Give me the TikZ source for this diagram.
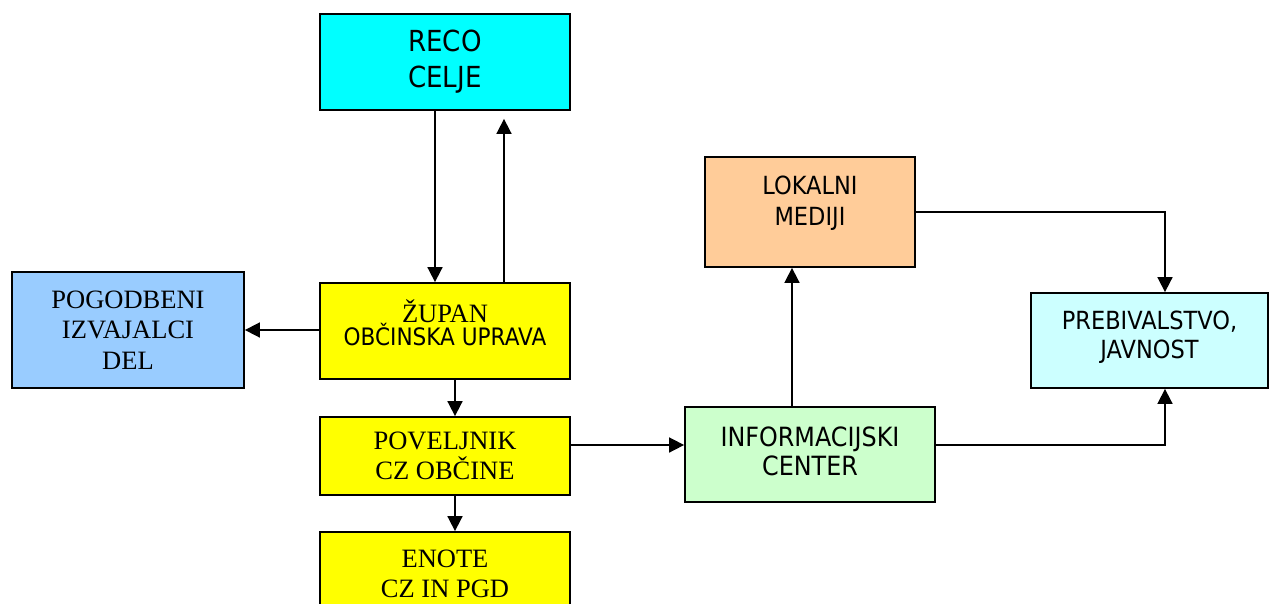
\documentclass[tikz,border=0pt]{standalone}
\usepackage{fontspec}
\setmainfont{Liberation Serif}
\newfontfamily\tah[FakeStretch=0.9]{DejaVu Sans}
\usetikzlibrary{arrows.meta}
\definecolor{cCyan}{HTML}{00FFFF}
\definecolor{cBlue}{HTML}{99CCFF}
\definecolor{cYel}{HTML}{FFFF00}
\definecolor{cOra}{HTML}{FFCC99}
\definecolor{cGrn}{HTML}{CCFFCC}
\definecolor{cLcy}{HTML}{CCFFFF}
\tikzset{
  box/.style={draw=black, line width=1.8pt, inner sep=0pt, align=center},
  serifbig/.style={font=\fontsize{26.5}{30.5}\selectfont},
  conn/.style={-{Triangle[length=15pt,width=15pt]}, line width=1.7pt},
}
\begin{document}
\begin{tikzpicture}[x=1pt,y=-1pt]
\clip (0,0) rectangle (1269,603);
\fill[white] (0,0) rectangle (1269,603);
% boxes
\node[box, fill=cCyan, minimum width=250pt, minimum height=96pt,
  font=\tah\fontsize{29}{36}\selectfont] (reco) at (445,62) {RECO\\CELJE};
\node[box, fill=cBlue, minimum width=232pt, minimum height=116pt, serifbig] (pdg) at (128,330) {POGODBENI\\IZVAJALCI\\DEL};
\node[box, fill=cYel, minimum width=250pt, minimum height=96pt,
  label={[name=zupant, align=center, yshift=8pt]center:{\fontsize{26.5}{35}\selectfont ŽUPAN\\{\tah\fontsize{24}{35}\selectfont OBČINSKA UPRAVA}}}] (zupan) at (445,331) {};
\node[box, fill=cYel, minimum width=250pt, minimum height=78pt, serifbig] (pov) at (445,456) {POVELJNIK\\CZ OBČINE};
\node[box, fill=cYel, minimum width=250pt, minimum height=84pt, serifbig] (enote) at (445,574) {ENOTE\\CZ IN PGD};
\node[box, fill=cGrn, minimum width=250pt, minimum height=95pt,
  label={[name=infot, align=center, yshift=3pt, font=\tah\fontsize{26.5}{28.5}\selectfont]center:{INFORMACIJSKI\\CENTER}}] (info) at (810,454.5) {};
\node[box, fill=cOra, minimum width=210pt, minimum height=110pt,
  label={[name=lokt, align=center, yshift=9pt, font=\tah\fontsize{25}{31}\selectfont]center:{LOKALNI\\MEDIJI}}] (lok) at (810,212) {};
\node[box, fill=cLcy, minimum width=237pt, minimum height=95pt,
  label={[name=prebt, align=center, yshift=3pt, font=\tah\fontsize{25}{29}\selectfont]center:{PREBIVALSTVO,\\JAVNOST}}] (preb) at (1149.5,340.5) {};
% connectors
\draw[conn] ([xshift=-10pt]reco.south) -- ([xshift=-10pt]zupan.north);
\draw[conn] ([xshift=59pt]zupan.north) -- ([xshift=59pt,yshift=-8pt]reco.south);
\draw[conn] ([yshift=1pt]zupan.west) -- ([yshift=1pt]zupan.west -| pdg.east);
\draw[conn] ([xshift=10pt]zupan.south) -- ([xshift=10pt]pov.north);
\draw[conn] ([xshift=10pt]pov.south) -- ([xshift=10pt]enote.north);
\draw[conn] ([yshift=11pt]pov.east) -- ([yshift=11pt]pov.east -| info.west);
\draw[conn] ([xshift=-18pt]info.north) -- ([xshift=-18pt]lok.south);
\draw[conn] (lok.east) -| ([xshift=15.5pt]preb.north);
\draw[conn] ([yshift=9.5pt]info.east) -| ([xshift=15.5pt]preb.south);
\end{tikzpicture}
\end{document}
